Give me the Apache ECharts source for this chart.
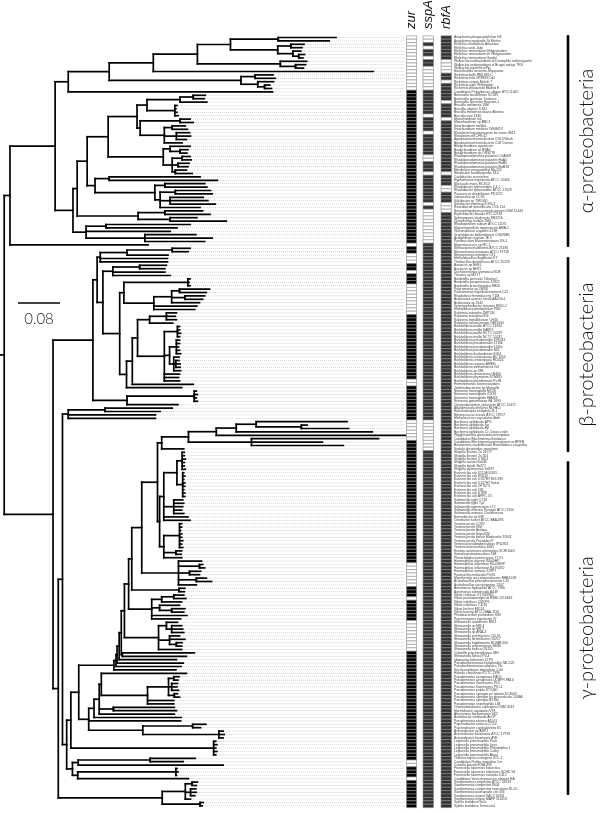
<!DOCTYPE html>
<html>
<head>
<meta charset="utf-8">
<script src="https://cdn.jsdelivr.net/npm/echarts/dist/echarts.min.js"></script>
<style>html,body{margin:0;padding:0;background:#fff}#chart{width:600px;height:813px}</style>
</head>
<body>
<div id="chart"></div>
<script>
// ---------------- DATA ----------------
// Phylogeny (Newick, branch lengths in substitutions/site). Upper-case labels refer to the sub-clades below.
const nwkBackbone = "((ALPHA:0.086,:0.263):0.011,(BETA:0.076,GAMMA:0.010):0.093):0.008";
// alpha-proteobacteria
const nwkAlpha = "(RICKETTSIALES:0.025,(((RHIZOBIALES:0.040,CAULO_RHODOBACTER:0.015):0.019,SPHINGOMONADALES:0.116):0.008,RHODOSPIRILLALES:0.025):0.034)";
const nwkAnaplasmataceae = "(((:0.110,:0.097):0.091,((:0.025,:0.021):0.025,(:0.015,(:0.011,:0.008):0.011):0.029):0.090):0.063,(:0.050,(:0.019,:0.015):0.029):0.158)";
const nwkRickettsiales = "(((ANAPLASMATACEAE:0.084,:0.419):0.084,((:0.034,:0.038):0.027,(:0.030,(:0.010,:0.013):0.013):0.032):0.251):0.078,:0.389)";
const nwkRhizobiales = "(((((:0.023,:0.021):0.025,:0.051):0.063,(:0.004,:0.002,:0.004,:0.006):0.053):0.019,((:0.019,:0.025):0.076,((:0.025,:0.029):0.015,(:0.025,:0.027,:0.019):0.023,:0.034):0.046):0.006):0.055,((:0.038,(:0.015,:0.013):0.019):0.013,((:0.015,:0.017):0.019,(:0.021,:0.019):0.011,(:0.021,:0.032):0.006):0.017):0.105)";
const nwkCauloRhodobacter = "((:0.173,:0.206):0.027,((:0.076,:0.080):0.019,((:0.067,:0.070):0.029,(:0.063,:0.072,:0.086):0.019,:0.076):0.010):0.114)";
const nwkSphingomonadales = "((:0.072,:0.086):0.051,(:0.051,:0.107):0.061)";
const nwkRhodospirillales = "((:0.160,:0.135):0.038,:0.160,(:0.097,:0.128,:0.114):0.112)";
// beta-proteobacteria
const nwkBeta = "((NITROSOMONADALES:0.006,(RHODOCYCLALES:0.019,(BORDETELLA_COMAMONADACEAE:0.008,BURKHOLDERIACEAE:0.013):0.032):0.011):0.008,NEISSERIALES:0.065)";
const nwkNitrosomonadales = "(((:0.034,:0.030):0.086,:0.078):0.051,:0.128,:0.128)";
const nwkRhodocyclales = "((:0.051,:0.048):0.051,:0.099,:0.109)";
const nwkBordetellaComamonadaceae = "((:0.004,:0.002,:0.004):0.122,(((:0.057,:0.051):0.015,(:0.038,:0.034):0.025,:0.053):0.034,:0.082,:0.078):0.057)";
const nwkBurkholderiaceae = "(((((:0.019,:0.017,:0.019):0.032,:0.044):0.023,((:0.004,:0.004,:0.006,:0.004):0.025,((:0.006,:0.006,:0.004,:0.006,:0.008):0.013,(:0.010,(:0.006,:0.008,:0.008):0.004,:0.013):0.008):0.010,:0.029,:0.027,:0.029):0.051):0.010,:0.116):0.011,:0.105)";
const nwkNeisseriales = "((:0.004,:0.006,:0.004,:0.006):0.128,:0.097)";
// gamma-proteobacteria
const nwkGamma = "((CHROMATIALES:0.011,(((ALTEROMONADALES:0.067,PSEUDOMONADALES:0.019):0.015,LEGIONELLA:0.272):0.008,THIOTRICHALES:0.011):0.008):0.008,XANTHOMONADALES:0.198)";
const nwkChromatiales = "((:0.128,:0.105):0.070,:0.166,:0.166)";
const nwkAlteromonadales = "(((((((((ENTEROBACTERALES:0.030,PASTEURELLACEAE:0.070):0.019,(:0.011,:0.010):0.090):0.006,VIBRIONACEAE:0.044):0.008,SHEWANELLA:0.065):0.006,(:0.137,:0.122):0.002):0.004,:0.109):0.004,:0.126):0.002,:0.124):0.004,:0.118)";
const nwkEnterobacterales = "((ENDOSYMBIONTS:0.051,:0.042):0.008,(ENTEROBACTERIA:0.008,YERSINIA:0.008):0.004)";
const nwkEndosymbionts = "((((:0.173,(:0.011,:0.090):0.086):0.038,:0.259):0.038,:0.362):0.053,(:0.242,:0.135,:0.175):0.120)";
const nwkEnterobacteria = "(((:0.004,:0.004,:0.006,:0.004,:0.004,:0.006):0.010,(:0.002,:0.004,:0.002,:0.004,:0.004,:0.002,:0.004,:0.004):0.011):0.025,(:0.017,:0.019,:0.017,:0.015,:0.019):0.019,:0.046,:0.050)";
const nwkYersinia = "((:0.004,:0.004,:0.002,:0.004,:0.004,:0.006,:0.004,:0.006):0.030,(:0.011,:0.010):0.023,:0.034)";
const nwkPasteurellaceae = "(:0.044,(:0.006,:0.010):0.040,(:0.021,:0.019):0.021,(:0.019,:0.029):0.034,:0.034)";
const nwkVibrionaceae = "(((:0.019,:0.023):0.023,:0.038):0.019,(:0.038,(:0.025,:0.023):0.023):0.015,:0.067,:0.055)";
const nwkShewanella = "((:0.021,(:0.019,:0.021,:0.023):0.010):0.015,(:0.019,:0.029,(:0.011,:0.010):0.013):0.021,:0.044)";
const nwkPseudomonadales = "((((:0.162,(((:0.010,:0.008):0.010,(:0.011,:0.010,:0.013):0.006,(:0.006,:0.010):0.011):0.040,:0.050,:0.050):0.088):0.004,(:0.116,:0.120):0.027,:0.143):0.010,:0.166):0.010,:0.175,((:0.025,:0.015):0.095,(:0.008,:0.010,:0.008):0.145):0.103)";
const nwkLegionella = "(:0.004,:0.006,:0.004,:0.006,:0.004)";
const nwkThiotrichales = "(((:0.086,:0.063):0.137,:0.276):0.011,((:0.002,:0.004,:0.001):0.187,:0.211):0.010)";
const nwkXanthomonadales = "(((:0.010,:0.008):0.013,(:0.010,:0.011,:0.008):0.010,:0.010):0.044,(:0.006,:0.004):0.072)";

// Leaf names, in tree order
const namesAlpha = [
 "Anaplasma phagocytophilum HZ","Anaplasma marginale St Maries","Ehrlichia chaffeensis Arkansas","Ehrlichia canis Jake",
 "Ehrlichia ruminantium Welgevonden","Ehrlichia ruminantium str Welgevonden","Ehrlichia ruminantium Gardel",
 "Wolbachia endosymbiont of Drosophila melanogaster","Wolbachia endosymbiont of Brugia malayi TRS","Wolbachia pipientis wPip",
 "Neorickettsia sennetsu Miyayama","Rickettsia bellii RML369-C","Rickettsia felis URRWXCal2","Rickettsia conorii Malish 7",
 "Rickettsia typhi Wilmington","Rickettsia prowazekii Madrid E","Candidatus Pelagibacter ubique HTCC1062",
 "Bartonella bacilliformis KC583","Bartonella quintana Toulouse","Bartonella henselae Houston-1",
 "Brucella melitensis 16M","Brucella abortus 9-941","Brucella melitensis biovar Abortus","Brucella suis 1330",
 "Mesorhizobium loti","Mesorhizobium sp BNC1","Sinorhizobium meliloti","Sinorhizobium medicae WSM419",
 "Rhizobium leguminosarum bv viciae 3841","Rhizobium etli CFN 42","Agrobacterium tumefaciens C58 UWash","Agrobacterium tumefaciens C58 Cereon",
 "Bradyrhizobium japonicum","Bradyrhizobium sp BTAi1","Bradyrhizobium sp ORS278","Rhodopseudomonas palustris CGA009",
 "Rhodopseudomonas palustris HaA2","Rhodopseudomonas palustris BisB5","Rhodopseudomonas palustris BisB18",
 "Nitrobacter winogradskyi Nb-255","Nitrobacter hamburgensis X14","Caulobacter crescentus","Hyphomonas neptunium ATCC 15444",
 "Maricaulis maris MCS10","Rhodobacter sphaeroides 2.4.1","Rhodobacter sphaeroides ATCC 17029","Paracoccus denitrificans PD1222",
 "Jannaschia sp CCS1","Silicibacter sp TM1040","Silicibacter pomeroyi DSS-3","Roseobacter denitrificans OCh 114",
 "Novosphingobium aromaticivorans DSM 12444","Erythrobacter litoralis HTCC2594","Sphingopyxis alaskensis RB2256","Zymomonas mobilis ZM4",
 "Rhodospirillum rubrum ATCC 11170","Magnetospirillum magneticum AMB-1","Gluconobacter oxydans 621H",
 "Granulibacter bethesdensis CGDNIH1","Acidiphilium cryptum JF-5","Parvibaculum lavamentivorans DS-1"
];
const namesBasal = ["Magnetococcus sp MC-1"];
const namesBeta = [
 "Nitrosospira multiformis ATCC 25196","Nitrosomonas europaea ATCC 19718","Nitrosomonas eutropha C91","Methylobacillus flagellatus KT",
 "Thiobacillus denitrificans ATCC 25259","Azoarcus sp EbN1","Azoarcus sp BH72","Dechloromonas aromatica RCB","Thauera sp MZ1T",
 "Bordetella pertussis Tohama I","Bordetella parapertussis 12822","Bordetella bronchiseptica RB50",
 "Polaromonas sp JS666","Polaromonas naphthalenivorans CJ2","Rhodoferax ferrireducens T118","Acidovorax avenae citrulli AAC00-1",
 "Acidovorax sp JS42","Verminephrobacter eiseniae EF01-2","Methylibium petroleiphilum PM1",
 "Ralstonia eutropha JMP134","Ralstonia eutropha H16","Ralstonia metallidurans CH34","Ralstonia solanacearum GMI1000",
 "Burkholderia mallei ATCC 23344","Burkholderia mallei SAVP1","Burkholderia mallei NCTC 10229","Burkholderia mallei NCTC 10247",
 "Burkholderia pseudomallei K96243","Burkholderia pseudomallei 1710b","Burkholderia pseudomallei 1106a","Burkholderia pseudomallei 668",
 "Burkholderia thailandensis E264","Burkholderia cenocepacia AU 1054","Burkholderia cenocepacia HI2424","Burkholderia cepacia AMMD",
 "Burkholderia vietnamiensis G4","Burkholderia sp 383","Burkholderia xenovorans LB400","Burkholderia phymatum STM815",
 "Burkholderia phytofirmans PsJN","Herminiimonas arsenicoxydans","Janthinobacterium sp Marseille",
 "Neisseria meningitidis MC58","Neisseria meningitidis Z2491","Neisseria meningitidis FAM18","Neisseria gonorrhoeae FA 1090",
 "Chromobacterium violaceum ATCC 12472"
];
const namesGamma = [
 "Alkalilimnicola ehrlichei MLHE-1","Halorhodospira halophila SL1","Nitrosococcus oceani ATCC 19707","Methylococcus capsulatus Bath",
 "Buchnera aphidicola APS","Buchnera aphidicola Sg","Buchnera aphidicola Bp","Buchnera aphidicola Cc Cinara cedri",
 "Wigglesworthia glossinidia brevipalpis","Candidatus Blochmannia floridanus","Candidatus Blochmannia pennsylvanicus BPEN",
 "Baumannia cicadellinicola Homalodisca coagulata","Sodalis glossinidius morsitans",
 "Shigella flexneri 2a 2457T","Shigella flexneri 2a 301","Shigella flexneri 5 8401","Shigella sonnei Ss046","Shigella boydii Sb227",
 "Shigella dysenteriae Sd197","Escherichia coli K12 MG1655","Escherichia coli W3110","Escherichia coli O157H7 EDL933",
 "Escherichia coli O157H7 Sakai","Escherichia coli CFT073","Escherichia coli 536","Escherichia coli UTI89","Escherichia coli APEC O1",
 "Salmonella typhi CT18","Salmonella typhi Ty2","Salmonella typhimurium LT2","Salmonella enterica Paratypi ATCC 9150",
 "Salmonella enterica Choleraesuis","Enterobacter sp 638","Citrobacter koseri ATCC BAA-895",
 "Yersinia pestis CO92","Yersinia pestis KIM","Yersinia pestis Antiqua","Yersinia pestis Nepal516","Yersinia pestis biovar Medievalis 91001",
 "Yersinia pestis Pestoides F","Yersinia pseudotuberculosis IP32953","Yersinia enterocolitica 8081",
 "Erwinia carotovora atroseptica SCRI1043","Serratia proteamaculans 568","Photorhabdus luminescens TTO1",
 "Haemophilus ducreyi 35000HP","Haemophilus influenzae 86-028NP","Haemophilus influenzae Rd KW20","Haemophilus somnus 129PT",
 "Pasteurella multocida Pm70","Mannheimia succiniciproducens MBEL55E","Actinobacillus pleuropneumoniae L20","Actinobacillus succinogenes 130Z",
 "Aeromonas hydrophila ATCC 7966","Aeromonas salmonicida A449",
 "Vibrio cholerae O1 N16961","Vibrio parahaemolyticus RIMD 2210633","Vibrio vulnificus CMCP6","Vibrio vulnificus YJ016",
 "Vibrio fischeri ES114","Vibrio harveyi ATCC BAA-1116","Photobacterium profundum SS9","Psychromonas ingrahamii 37",
 "Shewanella oneidensis MR-1","Shewanella sp MR-4","Shewanella sp MR-7","Shewanella sp ANA-3","Shewanella putrefaciens CN-32",
 "Shewanella denitrificans OS217","Shewanella frigidimarina NCIMB 400","Shewanella amazonensis SB2B","Shewanella baltica OS155",
 "Colwellia psychrerythraea 34H","Shewanella loihica PV-4","Idiomarina loihiensis L2TR","Pseudoalteromonas haloplanktis TAC125",
 "Pseudoalteromonas atlantica T6c","Saccharophagus degradans 2-40","Hahella chejuensis KCTC 2396",
 "Pseudomonas aeruginosa PAO1","Pseudomonas aeruginosa UCBPP-PA14","Pseudomonas fluorescens Pf-5","Pseudomonas fluorescens PfO-1",
 "Pseudomonas putida KT2440","Pseudomonas syringae pv tomato DC3000","Pseudomonas syringae pv phaseolicola 1448A",
 "Pseudomonas syringae B728a","Pseudomonas entomophila L48","Chromohalobacter salexigens DSM 3043","Marinobacter aquaeolei VT8",
 "Alcanivorax borkumensis SK2","Azotobacter vinelandii AvOP","Pseudomonas stutzeri A1501",
 "Psychrobacter arcticus 273-4","Psychrobacter cryohalolentis K5","Acinetobacter sp ADP1","Acinetobacter baumannii ATCC 17978",
 "Acinetobacter baumannii AYE","Legionella pneumophila Paris","Legionella pneumophila Lens","Legionella pneumophila Philadelphia 1",
 "Legionella pneumophila Corby","Legionella pneumophila Alcoy","Thiomicrospira crunogena XCL-2","Candidatus Ruthia magnifica Cm",
 "Coxiella burnetii RSA 493","Francisella tularensis holarctica","Francisella tularensis tularensis SCHU S4",
 "Francisella tularensis novicida U112","Candidatus Vesicomyosocius okutanii HA",
 "Xanthomonas campestris ATCC 33913","Xanthomonas campestris 8004","Xanthomonas campestris vesicatoria 85-10",
 "Xanthomonas axonopodis citri 306","Xanthomonas oryzae KACC10331","Xanthomonas oryzae MAFF 311018",
 "Xylella fastidiosa 9a5c","Xylella fastidiosa Temecula1"
];

// Gene presence (1) / absence (0), one character per leaf, in tree order
const geneNames = ["zur", "sspA", "rbfA"];
const zurPresence = [
 "0000000000","000000","1111111111","1111111111","1111111111","1111111111","11111",
 "0",
 "11","000","11","0","111","000000000","1111111111","111111111","00","111111",
 "1111","000000","1111111111","1111111111","1111111111","111111","0000000","111","0","111111","000000000",
 "1111111111","1111111111","1111111111","11","00","111","0","11111111"
].join("");
const sspAPresence = [
 "00","1","0","11","0","11","0000000","1111111","0","1111","0","111111","00","111","0","11111111","0","1","0000000000",
 "1",
 "1111111111","1111111111","1111111111","1111111111","1111111",
 "1111","000000000","1111111111","1111111111","1111111111","1111111111","1111111111",
 "1111111111","1111111111","1111111111","1111111111","1111111111","11111"
].join("");
const rbfAPresence = [
 "1111111","0000","11","0","11111","0","1111","0","111111111111111","0","111","00","111","000","111111111",
 "1111111111","1111111111","1111111111","1111111111","1111111111","1111111111","1111111111","1111111111",
 "1111111111","1111111111","1111111111","1111111111","1111111111","1111111111","1111111111","1111111111","111111"
].join("");

// Clade annotation bars (in leaf-row units) and scale bar
const cladeNames = ["α-proteobacteria", "β-proteobacteria", "γ-proteobacteria"];
const cladeStartRow = [-0.7, 64.6, 124.6];
const cladeEndRow = [61.6, 121.9, 222.8];
const scaleBarValue = 0.08;

// ---------------- BUILD ----------------
const W = 600, H = 813;
const rowTop = 37.5, rowStep = 3.4;     // pixel layout of leaf rows
const pxPerUnit = 525;                  // pixels per substitution/site
const colX = [406.5, 423, 441], colW = [10, 10.5, 10.5];
const presentFill = ["#050505", "#333333", "#333333"];
const leaderEnd = 404.5, labelX = 454;

const cladeTable = {
  ALPHA: nwkAlpha, RICKETTSIALES: nwkRickettsiales, ANAPLASMATACEAE: nwkAnaplasmataceae,
  RHIZOBIALES: nwkRhizobiales, CAULO_RHODOBACTER: nwkCauloRhodobacter, SPHINGOMONADALES: nwkSphingomonadales,
  RHODOSPIRILLALES: nwkRhodospirillales,
  BETA: nwkBeta, NITROSOMONADALES: nwkNitrosomonadales, RHODOCYCLALES: nwkRhodocyclales,
  BORDETELLA_COMAMONADACEAE: nwkBordetellaComamonadaceae, BURKHOLDERIACEAE: nwkBurkholderiaceae, NEISSERIALES: nwkNeisseriales,
  GAMMA: nwkGamma, CHROMATIALES: nwkChromatiales, ALTEROMONADALES: nwkAlteromonadales, ENTEROBACTERALES: nwkEnterobacterales,
  ENDOSYMBIONTS: nwkEndosymbionts, ENTEROBACTERIA: nwkEnterobacteria, YERSINIA: nwkYersinia,
  PASTEURELLACEAE: nwkPasteurellaceae, VIBRIONACEAE: nwkVibrionaceae, SHEWANELLA: nwkShewanella,
  PSEUDOMONADALES: nwkPseudomonadales, LEGIONELLA: nwkLegionella, THIOTRICHALES: nwkThiotrichales,
  XANTHOMONADALES: nwkXanthomonadales
};

function parseNewick(str) {
  let i = 0;
  function readNode() {
    const node = { children: [], label: "", len: 0 };
    if (str[i] === "(") {
      i++;
      node.children.push(readNode());
      while (str[i] === ",") { i++; node.children.push(readNode()); }
      i++;
    }
    let label = "";
    while (i < str.length && ":,();".indexOf(str[i]) < 0) label += str[i++];
    node.label = label.trim();
    if (str[i] === ":") {
      i++;
      let num = "";
      while (i < str.length && ",();".indexOf(str[i]) < 0) num += str[i++];
      node.len = parseFloat(num) || 0;
    }
    return node;
  }
  return readNode();
}
function resolve(node) {
  if (!node.children.length && cladeTable[node.label]) {
    const sub = parseNewick(cladeTable[node.label]);
    sub.len = node.len;
    return resolve(sub);
  }
  node.children = node.children.map(resolve);
  return node;
}
const root = resolve(parseNewick(nwkBackbone));
const leafNames = namesAlpha.concat(namesBasal, namesBeta, namesGamma);

const leaves = [], segs = [];
let leafCounter = 0;
function layout(n, parentDepth) {
  n.depth = parentDepth + n.len;
  if (!n.children.length) {
    n.row = leafCounter++;
    leaves.push(n);
  } else {
    n.children.forEach(c => layout(c, n.depth));
    const a = n.children[0].row, b = n.children[n.children.length - 1].row;
    n.row = (a + b) / 2;
    segs.push([n.depth, a, n.depth, b]);
  }
  segs.push([parentDepth, n.row, n.depth, n.row]);
}
layout(root, 0);

const presence = [zurPresence, sspAPresence, rbfAPresence];
const cellData = [];
presence.forEach((s, g) => {
  leaves.forEach((l, i) => cellData.push([g, l.row, s[i] === "1" ? 1 : 0]));
});

// ---------------- CHART ----------------
const chart = echarts.init(document.getElementById("chart"), null, { renderer: "canvas" });
const labelFont = '3.3px "Liberation Sans", Arial, sans-serif';

chart.setOption({
  animation: false,
  grid: { left: 0, right: 0, top: 0, bottom: 0 },
  xAxis: { type: "value", min: 0, max: W / pxPerUnit, show: false },
  yAxis: { type: "value", inverse: true, min: -rowTop / rowStep, max: (H - rowTop) / rowStep, show: false },
  graphic: geneNames.map((g, i) => ({
    type: "text", x: colX[i] + colW[i] / 2, y: 29, rotation: Math.PI / 2,
    style: { text: g, font: 'italic 13px "Liberation Sans", Arial, sans-serif', fill: "#111", align: "left", verticalAlign: "middle" }
  })),
  series: [
    { // dotted leaders
      type: "custom", clip: false, silent: true,
      data: leaves.map(l => [l.depth, l.row]),
      encode: { x: 0, y: 1 },
      renderItem: (p, api) => {
        const a = api.coord([api.value(0), api.value(1)]);
        return { type: "line", shape: { x1: a[0] + 1, y1: a[1], x2: leaderEnd, y2: a[1] },
          style: { stroke: "#c2c2c2", lineWidth: 0.7, lineDash: [1, 1] } };
      }
    },
    { // tree branches
      type: "custom", clip: false, silent: true,
      data: segs,
      encode: { x: [0, 2], y: [1, 3] },
      renderItem: (p, api) => {
        const a = api.coord([api.value(0), api.value(1)]);
        const b = api.coord([api.value(2), api.value(3)]);
        return { type: "line", shape: { x1: a[0], y1: a[1], x2: b[0], y2: b[1] },
          style: { stroke: "#000", lineWidth: 1.7, lineCap: "square" } };
      }
    },
    { // presence / absence cells
      type: "custom", clip: false, silent: true,
      data: cellData,
      encode: { x: 0, y: 1 },
      renderItem: (p, api) => {
        const g = api.value(0), r = api.value(1), v = api.value(2);
        const y = api.coord([0, r])[1];
        const h = api.size([0, 1])[1];
        return { type: "rect", shape: { x: colX[g], y: y - h / 2, width: colW[g], height: h },
          style: { fill: v ? presentFill[g] : "#fff", stroke: "#8a8a8a", lineWidth: 0.6 } };
      }
    },
    { // leaf labels
      type: "custom", clip: false, silent: true,
      data: leaves.map((l, i) => [0, l.row, i]),
      encode: { x: 0, y: 1 },
      renderItem: (p, api) => {
        const y = api.coord([0, api.value(1)])[1];
        return { type: "text", x: labelX, y: y,
          style: { text: leafNames[api.value(2)] || "", font: labelFont, fill: "#3a3a3a", align: "left", verticalAlign: "middle" } };
      }
    },
    { // clade bars + labels
      type: "custom", clip: false, silent: true,
      data: cladeNames.map((c, i) => [cladeStartRow[i], cladeEndRow[i], i]),
      encode: { x: 2, y: 0 },
      renderItem: (p, api) => {
        const y1 = api.coord([0, api.value(0)])[1];
        const y2 = api.coord([0, api.value(1)])[1];
        return { type: "group", children: [
          { type: "line", shape: { x1: 568, y1: y1, x2: 568, y2: y2 }, style: { stroke: "#000", lineWidth: 2.6 } },
          { type: "text", x: 587, y: (y1 + y2) / 2, rotation: Math.PI / 2,
            style: { text: cladeNames[api.value(2)], font: '300 20px Lato, "Open Sans", sans-serif', fill: "#111", align: "center", verticalAlign: "middle" } }
        ] };
      }
    },
    { // scale bar
      type: "custom", clip: false, silent: true,
      data: [[scaleBarValue, 0]],
      encode: { x: 0, y: 1 },
      renderItem: (p, api) => {
        const v = api.value(0);
        const len = api.size([v, 0])[0];
        return { type: "group", children: [
          { type: "line", shape: { x1: 18, y1: 303, x2: 18 + len, y2: 303 }, style: { stroke: "#000", lineWidth: 1.6 } },
          { type: "text", x: 18 + len / 2, y: 319,
            style: { text: String(v), font: '300 15px Lato, "Open Sans", sans-serif', fill: "#222", align: "center", verticalAlign: "middle" } }
        ] };
      }
    }
  ]
});
</script>
</body>
</html>
